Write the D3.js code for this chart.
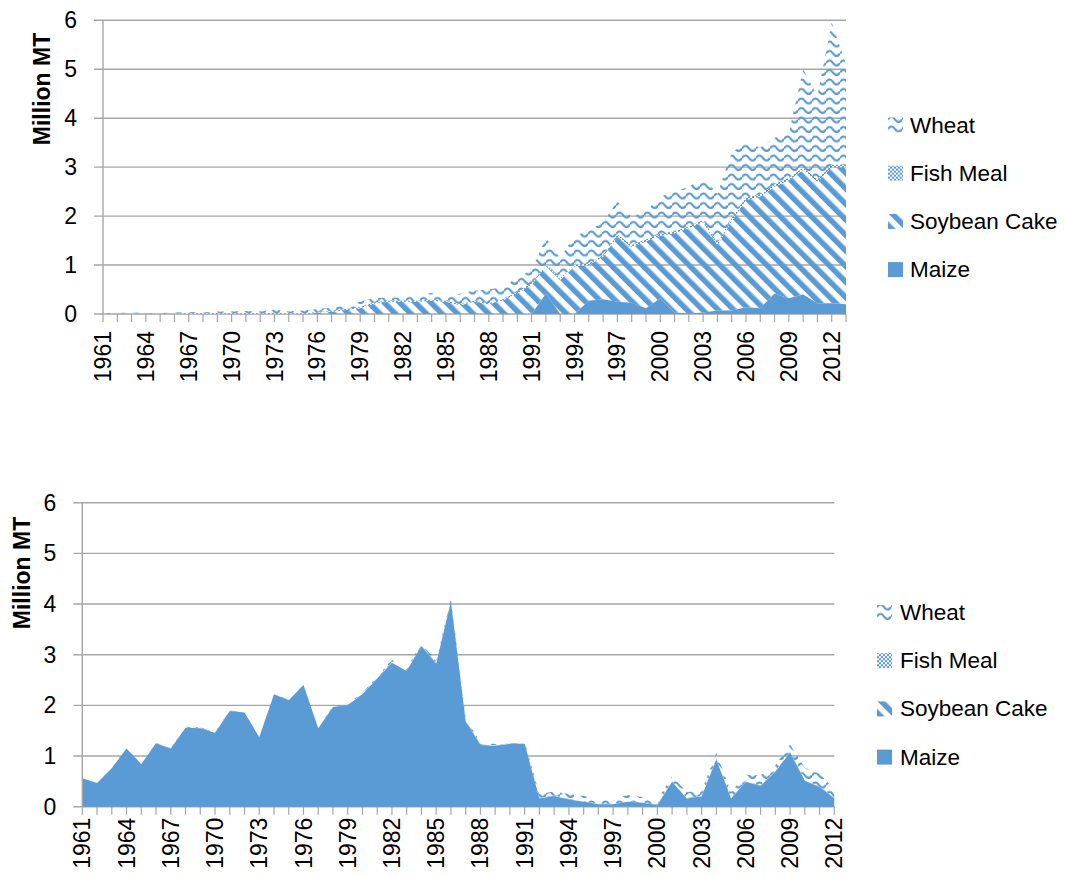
<!DOCTYPE html>
<html><head><meta charset="utf-8">
<script src="https://cdn.jsdelivr.net/npm/d3@7"></script>
<style>
html,body{margin:0;padding:0;background:#fff;}
text{font-family:"Liberation Sans",Arial,sans-serif;fill:#000;}
</style></head>
<body>
<svg id="chart" width="1065" height="877"></svg>
<script>
// ---------- DATA ----------
const seriesNames = ["Wheat", "Fish Meal", "Soybean Cake", "Maize"];

// Top chart: 1961-2013
const yearsTop = d3.range(1961, 2014);
const maizeTop = [0,0,0,0,0,0,0,0,0,0, 0,0,0,0,0,0,0,0,0,0, 0,0,0,0,0,0,0,0,0,0,
  0,0.42,0,0,0.27,0.30,0.25,0.23,0.12,0.32, 0.03,0.01,0.03,0.07,0.07,0.14,0.12,0.42,0.32,0.40, 0.22,0.22,0.20];
const soyTop = [0,0,0,0,0,0,0,0,0,0, 0,0,0,0,0,0.03,0.05,0.08,0.12,0.22, 0.25,0.25,0.25,0.27,0.25,0.18,0.25,0.20,0.28,0.42,
  0.60,0.55,0.70,0.97,0.73,0.87,1.33,1.14,1.36,1.28, 1.62,1.74,1.85,1.33,1.83,2.19,2.28,2.18,2.41,2.54, 2.48,2.78,2.80];
const fishTop = [0,0,0,0,0,0,0.01,0.01,0.01,0.01, 0.01,0.01,0.01,0.01,0.01,0.01,0.01,0.02,0.02,0.02, 0.02,0.02,0.02,0.02,0.02,0.02,0.02,0.02,0.02,0.03,
  0.03,0.03,0.03,0.03,0.03,0.03,0.04,0.04,0.04,0.04, 0.04,0.04,0.04,0.04,0.05,0.05,0.05,0.05,0.05,0.05, 0.05,0.05,0.05];
const wheatTop = [0.02,0.02,0.03,0.02,0.02,0.03,0.03,0.02,0.04,0.04, 0.05,0.04,0.08,0.04,0.06,0.06,0.07,0.08,0.11,0.09,
  0.06,0.07,0.12,0.14,0.06,0.22,0.21,0.28,0.25,0.30, 0.27,0.56,0.41,0.60,0.67,0.68,0.68,0.58,0.58,0.76,
  0.81,0.81,0.88,1.01,1.35,1.12,0.95,0.95,0.92,2.01, 1.70,2.90,2.05];

// Bottom chart: 1961-2012
const yearsBottom = d3.range(1961, 2013);
const maizeBottom = [0.56,0.47,0.76,1.15,0.84,1.25,1.15,1.56,1.55,1.46, 1.89,1.86,1.37,2.22,2.10,2.40,1.55,1.97,2.00,2.22,
  2.53,2.84,2.68,3.17,2.82,4.05,1.68,1.22,1.20,1.24, 1.24,0.16,0.21,0.14,0.10,0.05,0.05,0.10,0.08,0.03,
  0.49,0.16,0.20,0.93,0.16,0.49,0.41,0.69,1.07,0.51, 0.39,0.16];
const soyBottom = [0,0,0,0,0,0,0,0,0,0, 0,0,0,0,0,0,0,0,0.01,0.01, 0.01,0.02,0.01,0.02,0.01,0.02,0.02,0.01,0.01,0.01,
  0.01,0.01,0.01,0.01,0.01,0.01,0.01,0.01,0.01,0.01, 0.01,0.01,0.01,0.01,0.01,0.01,0.01,0.01,0.01,0.01, 0.01,0.01];
const fishBottom = [0,0,0,0,0,0,0,0,0,0, 0,0,0,0,0,0,0,0,0,0, 0,0,0,0,0,0,0,0,0,0,
  0,0,0,0,0,0,0,0,0,0, 0,0,0,0,0,0,0,0,0,0, 0,0];
const wheatBottom = [0.01,0.01,0.01,0.01,0.01,0.01,0.01,0.02,0.02,0.01, 0.01,0.01,0.01,0.01,0.01,0.01,0.01,0.02,0.03,0.02,
  0.03,0.04,0.03,0.05,0.04,0.05,0.05,0.04,0.03,0.04, 0.04,0.08,0.08,0.10,0.10,0.08,0.10,0.12,0.10,0.10,
  0.10,0.12,0.10,0.12,0.12,0.13,0.20,0.12,0.15,0.25, 0.25,0.18];

const yTicks = [0,1,2,3,4,5,6];
const xTickLabels = d3.range(1961, 2013, 3);
const yTitle = "Million MT";

// ---------- DRAWING ----------
const svg = d3.select("#chart");
const blue = "#5B9BD5";
const grid = "#A6A6A6";

const defs = svg.append("defs");
// Wheat: wave
const pw = defs.append("pattern").attr("id","pWheat").attr("patternUnits","userSpaceOnUse")
  .attr("width",14).attr("height",9.5);
pw.append("path").attr("d","M0,6 Q3.5,1 7,6 T14,6").attr("fill","none").attr("stroke",blue)
  .attr("stroke-width",2.2);
// Fish meal: small checker
const pf = defs.append("pattern").attr("id","pFish").attr("patternUnits","userSpaceOnUse")
  .attr("width",4).attr("height",4);
pf.append("rect").attr("width",4).attr("height",4).attr("fill","#fff");
pf.append("rect").attr("width",2).attr("height",2).attr("fill",blue);
pf.append("rect").attr("x",2).attr("y",2).attr("width",2).attr("height",2).attr("fill",blue);
// Soybean cake: wide downward diagonal
const ps = defs.append("pattern").attr("id","pSoy").attr("patternUnits","userSpaceOnUse")
  .attr("width",11).attr("height",11).attr("patternTransform","rotate(-45)");
ps.append("rect").attr("width",5.5).attr("height",11).attr("fill",blue);

const fills = {"Wheat":"url(#pWheat)","Fish Meal":"url(#pFish)","Soybean Cake":"url(#pSoy)","Maize":blue};

function drawChart(cfg) {
  const g = svg.append("g");
  const x = d3.scalePoint().domain(cfg.years).range([cfg.x0, cfg.x1]);
  const y = d3.scaleLinear().domain([0,6]).range([cfg.y0, cfg.y1]);

  // gridlines
  g.selectAll(".gl").data(yTicks).join("line")
    .attr("x1", cfg.x0 - 9).attr("x2", cfg.x1)
    .attr("y1", d => y(d)).attr("y2", d => y(d))
    .attr("stroke", grid).attr("stroke-width", 1.4);

  // stacked areas
  const rows = cfg.years.map((yr,i) => ({year: yr, "Maize": cfg.maize[i], "Soybean Cake": cfg.soy[i],
    "Fish Meal": cfg.fish[i], "Wheat": cfg.wheat[i]}));
  const keys = ["Maize","Soybean Cake","Fish Meal","Wheat"];
  const stack = d3.stack().keys(keys)(rows);
  const area = d3.area().x(d => x(d.data.year)).y0(d => y(d[0])).y1(d => y(d[1]));
  g.selectAll(".ar").data(stack).join("path")
    .attr("d", area).attr("fill", d => fills[d.key]);

  // y axis line
  g.append("line").attr("x1",cfg.x0).attr("x2",cfg.x0).attr("y1",cfg.y0).attr("y2",cfg.y1)
    .attr("stroke",grid).attr("stroke-width",1.4);
  // x axis ticks
  g.selectAll(".xt").data(cfg.years).join("line")
    .attr("x1", d => x(d)).attr("x2", d => x(d)).attr("y1", cfg.y0).attr("y2", cfg.y0 + 8)
    .attr("stroke", grid).attr("stroke-width", 1.2);
  // y tick labels
  g.selectAll(".yl").data(yTicks).join("text")
    .attr("x", cfg.x0 - 26).attr("y", d => y(d)).attr("dy","0.35em")
    .attr("text-anchor","end").style("font-size","23px").text(d => d);
  // x tick labels
  g.selectAll(".xl").data(xTickLabels).join("text")
    .attr("transform", d => `translate(${x(d)},${cfg.y0 + cfg.labGap}) rotate(-90)`)
    .attr("text-anchor","end").attr("dy","0.35em").style("font-size","23px").text(d => d);
  // y title
  g.append("text").attr("transform", `translate(${cfg.titleX},${cfg.titleY}) rotate(-90)`)
    .attr("text-anchor","middle").attr("dy","0.35em").style("font-size","23px").style("font-weight","bold")
    .text(yTitle);
  // legend
  const lg = g.selectAll(".lg").data(seriesNames).join("g")
    .attr("transform", (d,i) => `translate(${cfg.legX},${cfg.legY + i*48.2})`);
  lg.append("rect").attr("x",0).attr("y",-15).attr("width",15).attr("height",15)
    .attr("fill", d => fills[d]);
  lg.append("text").attr("x", cfg.legTextDx).attr("y", 0).style("font-size","22.5px").text(d => d);
}

drawChart({years: yearsTop, maize: maizeTop, soy: soyTop, fish: fishTop, wheat: wheatTop,
  x0: 103, x1: 846, y0: 314, y1: 20.3, labGap: 17, titleX: 42, titleY: 89,
  legX: 888, legY: 132.5, legTextDx: 22});
drawChart({years: yearsBottom, maize: maizeBottom, soy: soyBottom, fish: fishBottom, wheat: wheatBottom,
  x0: 82.3, x1: 834.3, y0: 806.7, y1: 502.7, labGap: 11, titleX: 22, titleY: 573,
  legX: 877, legY: 620, legTextDx: 23});
</script>
</body></html>
